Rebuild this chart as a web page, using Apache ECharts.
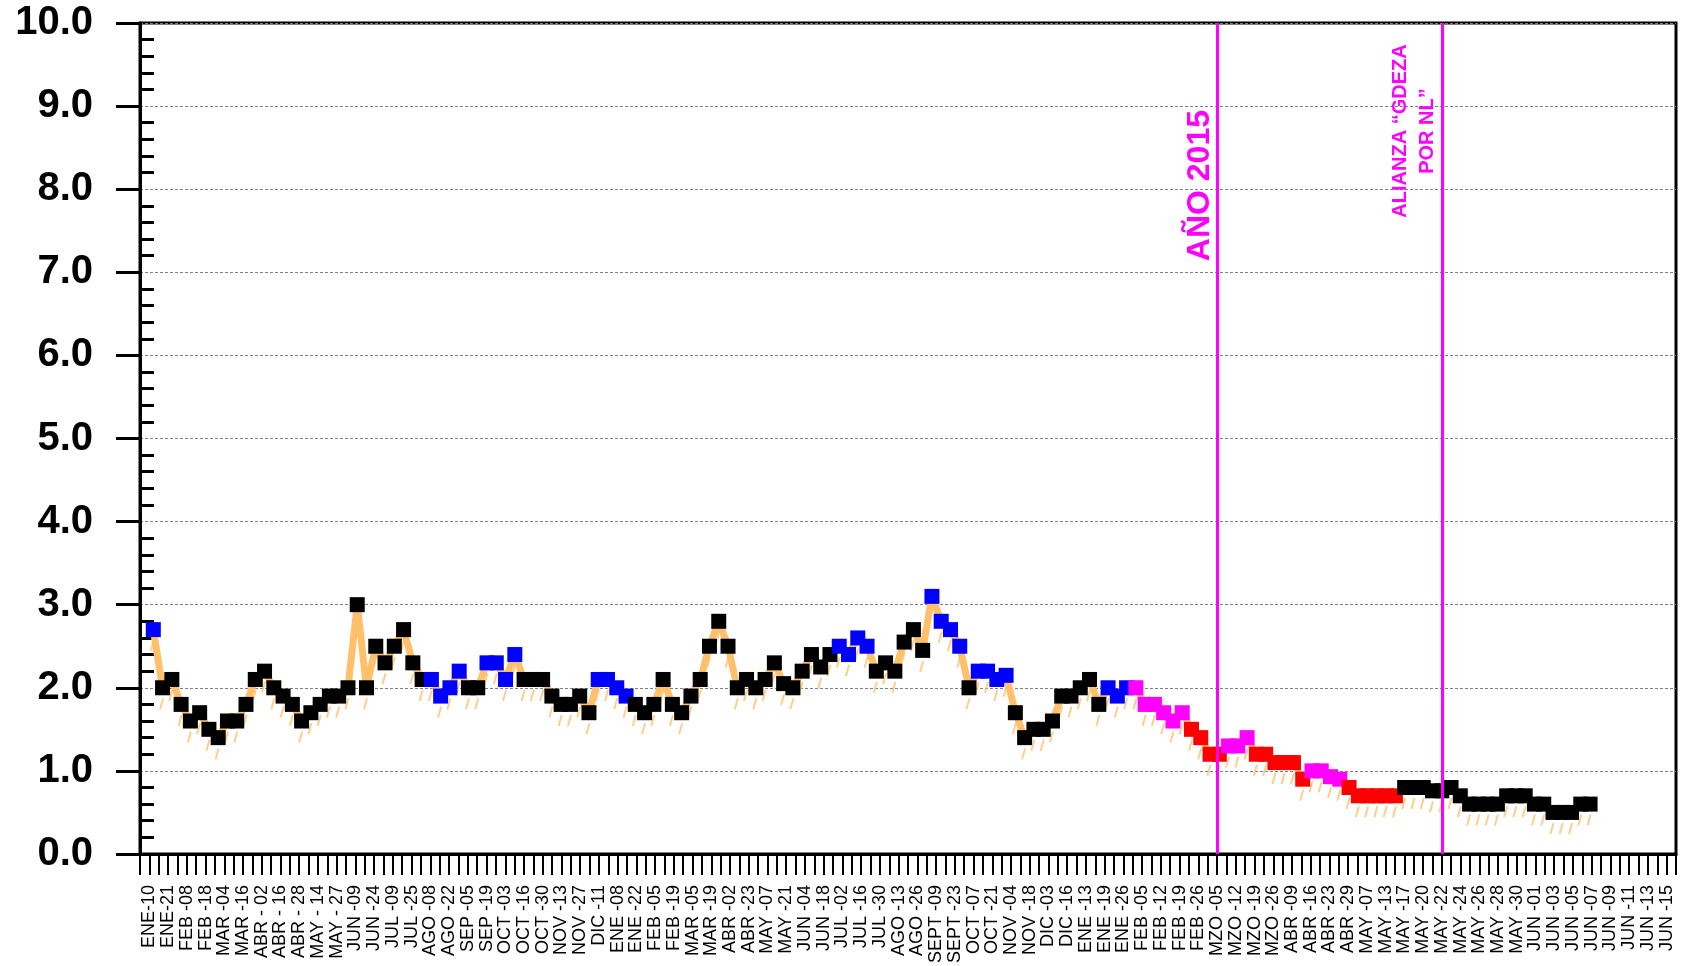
<!DOCTYPE html>
<html>
<head>
<meta charset="utf-8">
<script src="https://cdn.jsdelivr.net/npm/echarts@6/dist/echarts.min.js"></script>
<style>
  html, body { margin: 0; padding: 0; background: #fff; }
  #chart { width: 1687px; height: 966px; }
</style>
</head>
<body>
<div id="chart"></div>
<script>
// etiquetas del eje x (una cada dos marcas)
var tickLabels = ['ENE-10', 'ENE-21', 'FEB -08', 'FEB -18', 'MAR -04', 'MAR -16', 'ABR - 02', 'ABR - 16', 'ABR - 28', 'MAY - 14',
    'MAY - 27', 'JUN -09', 'JUN -24', 'JUL -09', 'JUL -25', 'AGO -08', 'AGO -22', 'SEP -05', 'SEP -19', 'OCT -03',
    'OCT -16', 'OCT -30', 'NOV -13', 'NOV -27', 'DIC -11', 'ENE -08', 'ENE -22', 'FEB -05', 'FEB -19', 'MAR -05',
    'MAR -19', 'ABR -02', 'ABR -23', 'MAY -07', 'MAY -21', 'JUN -04', 'JUN -18', 'JUL -02', 'JUL -16', 'JUL -30',
    'AGO -13', 'AGO -26', 'SEPT -09', 'SEPT -23', 'OCT -07', 'OCT -21', 'NOV -04', 'NOV -18', 'DIC -03', 'DIC -16',
    'ENE -13', 'ENE -19', 'ENE -26', 'FEB -05', 'FEB -12', 'FEB -19', 'FEB -26', 'MZO -05', 'MZO -12', 'MZO -19',
    'MZO -26', 'ABR -09', 'ABR -16', 'ABR -23', 'ABR -29', 'MAY -07', 'MAY -13', 'MAY -17', 'MAY -20', 'MAY -22',
    'MAY -24', 'MAY -26', 'MAY -28', 'MAY -30', 'JUN -01', 'JUN -03', 'JUN -05', 'JUN -07', 'JUN -09', 'JUN -11',
    'JUN -13', 'JUN -15'];

// valores semanales
var values = [
    2.7, 2.0, 2.1, 1.8, 1.6, 1.7, 1.5, 1.4, 1.6, 1.6,
    1.8, 2.1, 2.2, 2.0, 1.9, 1.8, 1.6, 1.7, 1.8, 1.9,
    1.9, 2.0, 3.0, 2.0, 2.5, 2.3, 2.5, 2.7, 2.3, 2.1,
    2.1, 1.9, 2.0, 2.2, 2.0, 2.0, 2.3, 2.3, 2.1, 2.4,
    2.1, 2.1, 2.1, 1.9, 1.8, 1.8, 1.9, 1.7, 2.1, 2.1,
    2.0, 1.9, 1.8, 1.7, 1.8, 2.1, 1.8, 1.7, 1.9, 2.1,
    2.5, 2.8, 2.5, 2.0, 2.1, 2.0, 2.1, 2.3, 2.05, 2.0,
    2.2, 2.4, 2.25, 2.4, 2.5, 2.4, 2.6, 2.5, 2.2, 2.3,
    2.2, 2.55, 2.7, 2.45, 3.1, 2.8, 2.7, 2.5, 2.0, 2.2,
    2.2, 2.1, 2.15, 1.7, 1.4, 1.5, 1.5, 1.6, 1.9, 1.9,
    2.0, 2.1, 1.8, 2.0, 1.9, 2.0, 2.0, 1.8, 1.8, 1.7,
    1.6, 1.7, 1.5, 1.4, 1.2, 1.2, 1.3, 1.3, 1.4, 1.2,
    1.2, 1.1, 1.1, 1.1, 0.9, 1.0, 1.0, 0.93, 0.9, 0.8,
    0.7, 0.7, 0.7, 0.7, 0.7, 0.8, 0.8, 0.8, 0.76, 0.76,
    0.8, 0.7, 0.6, 0.6, 0.6, 0.6, 0.7, 0.7, 0.7, 0.6,
    0.6, 0.5, 0.5, 0.5, 0.6, 0.6
];

// grupo de cada punto: k negro, b azul, m magenta, r rojo
var groups = ('bkkkkkkkkk' + 'kkkkkkkkkk' + 'kkkkkkkkkk' + 'bbbbkkbbbb' + 'kkkkkkkkbb' +
    'bbkkkkkkkk' + 'kkkkkkkkkk' + 'kkkkbbbbkk' + 'kkkkbbbbkb' + 'bbbkkkkkkk' +
    'kkkbbbmmmm' + 'mmrrrrmmmr' + 'rrrrrmmmmr' + 'rrrrrkkkkk' + 'kkkkkkkkkk' + 'kkkkkk').split('');

var markers = [
    {label: 'MZO -05', text: 'AÑO 2015'},
    {label: 'MAY -22', text: 'ALIANZA \u201cGDEZA\nPOR NL\u201d'}
];

var groupColor = {k: '#000000', b: '#0000ff', m: '#ff00ff', r: '#ff0000'};
var orange = '#ffc06c';
var font = '"Liberation Sans", Arial, sans-serif';

var categories = [''];
tickLabels.forEach(function (l) {
    categories.push(l, '');
});

var seriesData = values.map(function (v, i) {
    return {value: [i, v], itemStyle: {color: groupColor[groups[i]]}};
});
var shadowData = values.map(function (v, i) {
    return [i, v];
});

var myChart = echarts.init(document.getElementById('chart'));

var option = {
    animation: false,
    backgroundColor: '#fff',
    grid: {
        left: 140, top: 23, width: 1536, height: 832,
        show: true, borderColor: '#000', borderWidth: 3, backgroundColor: 'transparent'
    },
    xAxis: [{
        type: 'category',
        data: categories,
        boundaryGap: false,
        axisLine: {onZero: false, lineStyle: {color: '#000', width: 3}},
        axisTick: {interval: 0, length: 21, lineStyle: {color: '#000', width: 2}},
        axisLabel: {
            interval: 0, rotate: 90, margin: 31,
            fontFamily: font, fontSize: 18, color: '#000'
        },
        splitLine: {show: false}
    }, {
        // eje oculto para colocar los puntos
        type: 'value',
        min: -1.435,
        max: 164.27,
        show: false,
        axisLine: {onZero: false}
    }],
    yAxis: [{
        type: 'value',
        min: 0, max: 10, interval: 1,
        axisLine: {show: true, onZero: false, lineStyle: {color: '#000', width: 3}},
        axisTick: {show: true, length: 24, lineStyle: {color: '#000', width: 3}},
        axisLabel: {
            margin: 47,
            fontFamily: font, fontSize: 40, fontWeight: 'bold', color: '#000',
            formatter: function (v) { return v.toFixed(1); }
        },
        splitLine: {show: true, lineStyle: {color: '#808080', width: 1, type: [3, 2]}}
    }, {
        // marcas menores hacia adentro (eje derecho llevado al borde izquierdo)
        type: 'value',
        position: 'right',
        offset: -1536,
        min: 0, max: 10, interval: 1,
        axisLine: {show: false, onZero: false},
        axisTick: {show: false},
        axisLabel: {show: false},
        splitLine: {show: false},
        minorTick: {show: true, splitNumber: 5, length: 14, lineStyle: {color: '#000', width: 3}}
    }],
    series: [
        {
            name: 'sombra',
            type: 'scatter',
            xAxisIndex: 1,
            yAxisIndex: 0,
            data: shadowData,
            symbol: 'path://M3,0 L5,0 L2,11 L0,11 Z',
            symbolSize: [5, 11],
            symbolOffset: [-1, 16],
            itemStyle: {color: orange},
            silent: true,
            z: 1
        },
        {
            name: 'valor',
            type: 'line',
            xAxisIndex: 1,
            yAxisIndex: 0,
            data: seriesData,
            symbol: 'rect',
            symbolSize: 15,
            showAllSymbol: true,
            lineStyle: {color: orange, width: 7},
            itemStyle: {borderWidth: 0},
            silent: true,
            z: 3
        },
        {
            name: 'eventos',
            type: 'line',
            xAxisIndex: 0,
            yAxisIndex: 0,
            data: [],
            markLine: {
                silent: true,
                symbol: ['none', 'none'],
                lineStyle: {color: '#ff00ff', width: 3, type: 'solid'},
                data: [
                    {
                        xAxis: categories.indexOf(markers[0].label),
                        label: {
                            formatter: markers[0].text,
                            position: 'insideEndTop',
                            distance: [87, 0],
                            color: '#ff00ff', fontFamily: font, fontSize: 32, fontWeight: 'bold',
                            lineHeight: 34
                        }
                    },
                    {
                        xAxis: categories.indexOf(markers[1].label),
                        label: {
                            formatter: markers[1].text,
                            position: 'insideEndTop',
                            align: 'center',
                            distance: [108, 1],
                            color: '#ff00ff', fontFamily: font, fontSize: 20, fontWeight: 'bold',
                            lineHeight: 27
                        }
                    }
                ]
            },
            z: 4
        }
    ]
};

myChart.setOption(option);
</script>
</body>
</html>
